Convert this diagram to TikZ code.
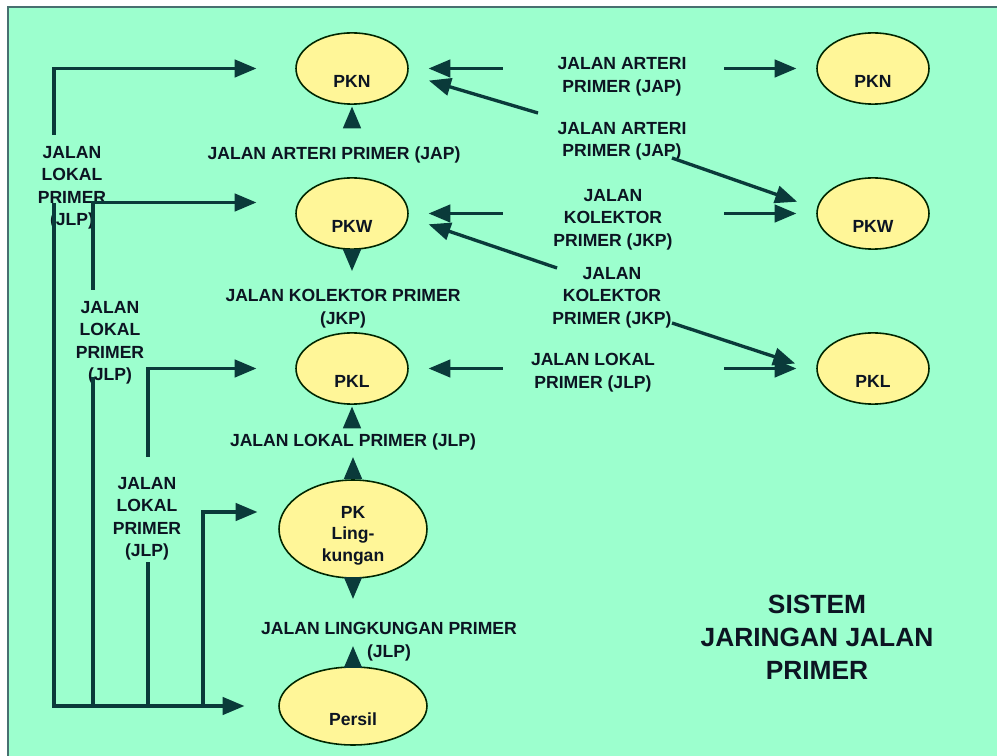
\documentclass[tikz,border=0pt]{standalone}
\usepackage{fontspec}
\setmainfont{Liberation Sans}
\usepackage{tikz}
\usetikzlibrary{arrows}
\usetikzlibrary{shapes.geometric}
\usetikzlibrary{calc}

\definecolor{latar}{RGB}{156,255,206}
\definecolor{kuning}{RGB}{255,246,152}
\definecolor{garis}{RGB}{10,58,58}
\definecolor{tinta}{RGB}{12,20,34}
\definecolor{bingkai}{RGB}{72,112,112}

\begin{document}
\begin{tikzpicture}[x=0.02cm, y=-0.02cm,
  tempat/.style={ellipse, draw=black!85!green, line width=0.9pt, fill=kuning,
    minimum width=2.24cm, minimum height=1.34cm, text height=22pt, text depth=0pt,
    font=\bfseries\fontsize{10}{12.8}\selectfont, text=tinta},
  ket/.style={align=center, font=\bfseries\fontsize{10}{12.8}\selectfont, text=tinta},
  jln/.style={draw=garis, line width=1.9pt}]

\useasboundingbox (0,0) rectangle (997,756);
\clip (0,0) rectangle (997,756);
\fill[white] (0,0) rectangle (997,756);
\draw[fill=latar, draw=bingkai, line width=1.3pt] (8,7) rectangle (1020,780);

% pusat kegiatan
\node[tempat] (PKN) at (352,68.5) {PKN};
\node[tempat] (PKW) at (352,213.5) {PKW};
\node[tempat] (PKL) at (352,368.5) {PKL};
\node[tempat, minimum width=2.96cm, minimum height=1.96cm,
  label={[ket, yshift=-0.13cm]center:{PK\\[-0.5pt]Ling-\\[-0.5pt]kungan}}] (PKLg) at (353,529) {};
\node[tempat, minimum width=2.96cm, minimum height=1.56cm] (PS) at (353,706) {Persil};
\node[tempat] (PKN2) at (873,68.5) {PKN};
\node[tempat] (PKW2) at (873,213.5) {PKW};
\node[tempat] (PKL2) at (873,368.5) {PKL};

% keterangan jalan
\node[ket] (J1) at (72,188) {JALAN\\LOKAL\\PRIMER\\(JLP)};
\node[ket] (J2) at (110,343) {JALAN\\LOKAL\\PRIMER\\(JLP)};
\node[ket] (J3) at (147,519) {JALAN\\LOKAL\\PRIMER\\(JLP)};
\node[ket] (A1) at (334,155) {JALAN ARTERI PRIMER (JAP)};
\node[ket] (K1) at (343,308.5) {JALAN KOLEKTOR PRIMER\\(JKP)};
\node[ket] (L1) at (353,442) {JALAN LOKAL PRIMER (JLP)};
\node[ket] (G1) at (389,641.5) {JALAN LINGKUNGAN PRIMER\\(JLP)};
\node[ket] (A2) at (622,77) {JALAN ARTERI\\PRIMER (JAP)};
\node[ket] (A3) at (622,141.5) {JALAN ARTERI\\PRIMER (JAP)};
\node[ket] (K2) at (613,219.5) {JALAN\\KOLEKTOR\\PRIMER (JKP)};
\node[ket] (K3) at (612,297.5) {JALAN\\KOLEKTOR\\PRIMER (JKP)};
\node[ket] (L2) at (593,372.5) {JALAN LOKAL\\PRIMER (JLP)};
\node[ket, font=\bfseries\fontsize{15}{18.8}\selectfont] (T) at (817,637) {SISTEM\\JARINGAN JALAN\\PRIMER};

% jalan lokal di kiri
\coordinate (v1) at (54,135);
\coordinate (v2) at (54,203);
\coordinate (v3) at (93,290);
\coordinate (v4) at (93,377);
\coordinate (v5) at (148,457);
\coordinate (v6) at (148,562);
\coordinate (v7) at (203,706);
\draw[jln, -triangle 45, shorten >=0.78cm] (v1) |- (PKN.west);
\draw[jln, -triangle 45, shorten >=0.68cm] (v2) |- (PS.west);
\draw[jln, -triangle 45, shorten >=0.78cm] (v3) |- ([yshift=0.22cm]PKW.west);
\draw[jln] (v4) -- (v4 |- PS.west);
\draw[jln, -triangle 45, shorten >=0.78cm] (v5) |- (PKL.west);
\draw[jln] (v6) -- (v6 |- PS.west);
\draw[jln, -triangle 45, shorten >=0.42cm] (v7) |- ([yshift=0.34cm]PKLg.west);

% jalan di tengah
\draw[jln, triangle 45-, shorten <=1pt] (PKN.south) -- ++(0,22);
\draw[jln, -triangle 45] (PKW.south) -- ++(0,21);
\draw[jln, triangle 45-, shorten <=1pt] (PKL.south) -- ++(0,21);
\draw[jln, -triangle 45] (PKLg.north) -- ++(0,-22);
\draw[jln, -triangle 45] (PKLg.south) -- ++(0,20);
\draw[jln, -triangle 45] (PS.north) -- ++(0,-20);

% jalan di kanan
\draw[jln, triangle 45-, shorten <=0.4cm] (PKN.east) -- ++(94,0);
\draw[jln, triangle 45-, shorten <=0.4cm] (PKW.east) -- ++(94,0);
\draw[jln, triangle 45-, shorten <=0.4cm] (PKL.east) -- ++(94,0);
\draw[jln, -triangle 45, shorten >=0.4cm] ([xshift=-1.84cm]PKN2.west) -- (PKN2.west);
\draw[jln, -triangle 45, shorten >=0.4cm] ([xshift=-1.84cm]PKW2.west) -- (PKW2.west);
\draw[jln, -triangle 45, shorten >=0.4cm] ([xshift=-1.84cm]PKL2.west) -- (PKL2.west);

% jalan miring
\coordinate (d1) at (538,113);
\coordinate (d2) at (672,158);
\coordinate (d3) at (557,268);
\coordinate (d4) at (672,323);
\draw[jln, -triangle 45, shorten >=0.44cm] (d1) -- (PKN.354);
\draw[jln, -triangle 45, shorten >=0.42cm] (d2) -- (PKW2.175);
\draw[jln, -triangle 45, shorten >=0.43cm] (d3) -- (PKW.356);
\draw[jln, -triangle 45, shorten >=0.45cm] (d4) -- (PKL2.182);

\end{tikzpicture}
\end{document}
